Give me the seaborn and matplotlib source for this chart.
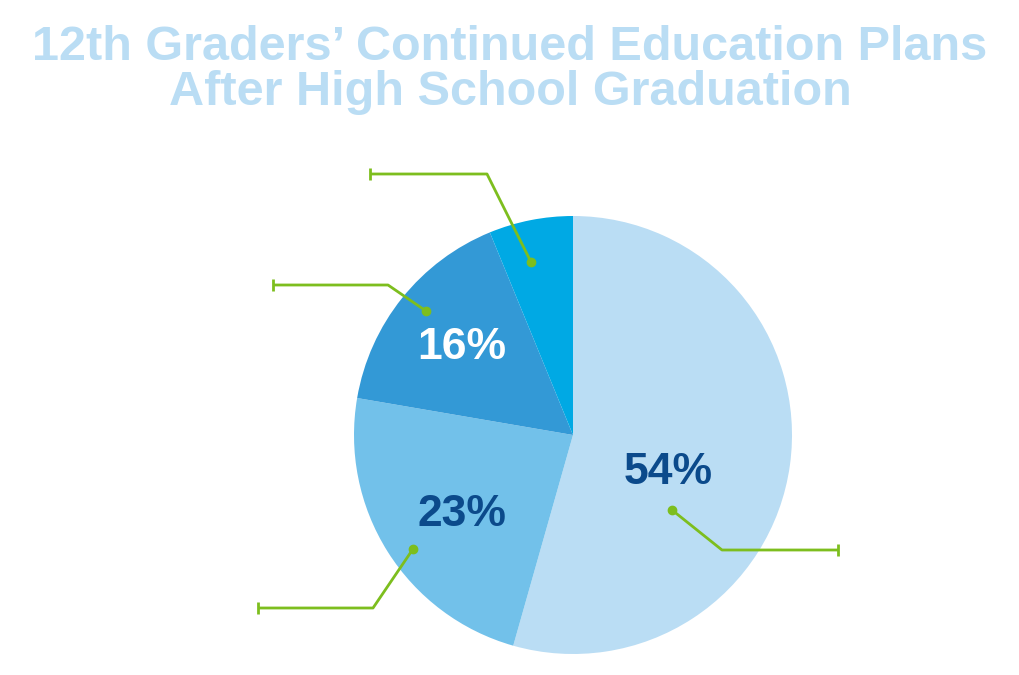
import matplotlib
matplotlib.use("Agg")
import matplotlib.pyplot as plt
import seaborn as sns

sns.set_theme(style="white")
plt.rcParams['font.family'] = ['Liberation Sans', 'DejaVu Sans']

# data (slice sizes; labels as printed)
shares = [54.4, 23.3, 16.1, 6.2]
labels = ["54%", "23%", "16%", ""]
colors = ["#BADDF4", "#72C1EA", "#3399D6", "#00A9E4"]
label_colors = ["#0B4A8B", "#0B4A8B", "white", "white"]
label_pos = [(668, 472), (462, 515), (462, 347), None]

# leader lines (pixel coords, y down): dot, elbow, end
leaders = [
    [(672, 510), (722, 550), (838, 550)],
    [(413, 549), (373, 608), (258, 608)],
    [(426, 311), (388, 285), (273, 285)],
    [(531, 262), (487, 174), (370, 174)],
]
green = "#7DBE1E"

W, H = 1020, 675
fig = plt.figure(figsize=(W / 100, H / 100), dpi=100)
ax = fig.add_axes([0, 0, 1, 1])

cx, cy, r = 573, H - 435, 219
ax.pie(shares, colors=colors, startangle=90, counterclock=False,
       center=(cx, cy), radius=r, frame=True,
       wedgeprops=dict(linewidth=0))
ax.set_xlim(0, W)
ax.set_ylim(0, H)
ax.set_aspect("equal")
ax.axis("off")

for pts in leaders:
    xs = [p[0] for p in pts]
    ys = [H - p[1] for p in pts]
    ax.plot(xs, ys, color=green, lw=2, solid_capstyle="butt")
    ax.plot(xs[0], ys[0], "o", color=green, ms=6)
    ax.plot(xs[-1], ys[-1], "|", color=green, ms=9, mew=2)

for lab, pos, c in zip(labels, label_pos, label_colors):
    if pos:
        ax.text(pos[0], H - pos[1], lab, color=c, fontsize=32,
                fontweight="bold", ha="center", va="center")

ax.text(W / 2, H - 70, "12th Graders\u2019 Continued Education Plans\nAfter High School Graduation",
        color="#BADDF4", fontsize=35, fontweight="bold", ha="center",
        va="center", linespacing=1.0)

fig.savefig("out.png", dpi=100)
